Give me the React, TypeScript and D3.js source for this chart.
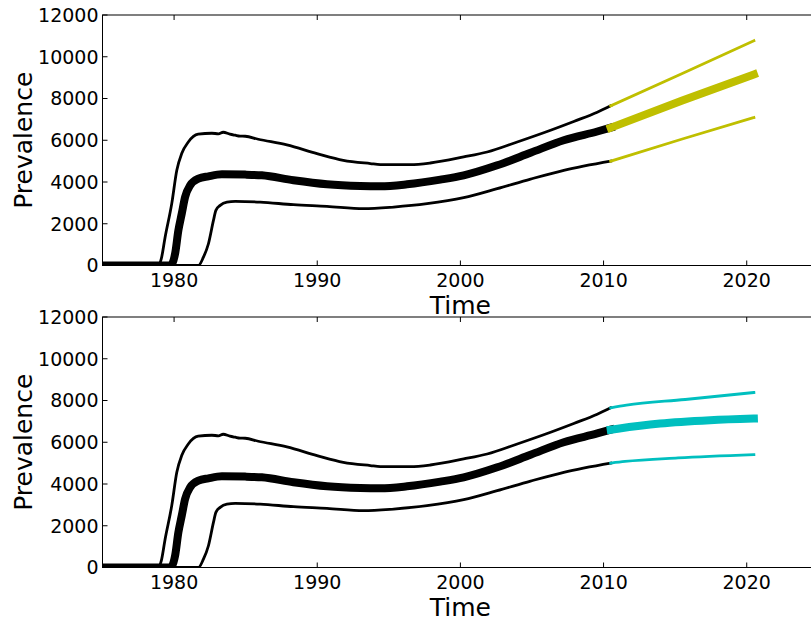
import React from "react";
import * as d3 from "d3";

type Pt = [number, number];

// Axis ticks
const xTicks = [1980, 1990, 2000, 2010, 2020];
const yTicks = [0, 2000, 4000, 6000, 8000, 10000, 12000];

// Historical prevalence (year, count): upper bound, median, lower bound
const upperHist: Pt[] = [
  [1975, 0], [1978.9, 0], [1979.1, 300], [1979.37, 1344], [1979.84, 2976],
  [1980.19, 4560], [1980.54, 5376], [1980.98, 5904], [1981.68, 6288],
  [1982.64, 6336], [1983.1, 6310], [1983.43, 6384], [1983.9, 6290],
  [1984.27, 6240], [1984.6, 6200], [1984.97, 6192], [1985.88, 6048],
  [1987.88, 5774], [1989.98, 5362], [1991.82, 5040], [1993.71, 4882],
  [1994.41, 4834], [1996.5, 4834], [1997.9, 4910], [2000.23, 5198],
  [2001.87, 5438], [2003.97, 5918], [2006.06, 6420], [2007.92, 6900],
  [2009.56, 7340], [2010.5, 7650],
];

const medianHist: Pt[] = [
  [1975, 0], [1979.7, 0], [1979.84, 60], [1980.07, 562], [1980.3, 1680],
  [1980.54, 2496], [1980.77, 3278], [1981.12, 3840], [1981.7, 4162],
  [1982.4, 4272], [1983.34, 4368], [1984.97, 4354], [1986.13, 4320],
  [1988.34, 4080], [1990.68, 3888], [1993.01, 3806], [1994.41, 3792],
  [1996.27, 3888], [1998.6, 4114], [2000.23, 4320], [2002.57, 4800],
  [2004.9, 5400], [2007.22, 6000], [2009.56, 6420], [2010.5, 6600],
];

const lowerHist: Pt[] = [
  [1975, 0], [1981.7, 0], [1982.05, 398], [1982.4, 1042], [1982.75, 2160],
  [1982.92, 2640], [1983.22, 2880], [1983.69, 3038], [1984.27, 3072],
  [1986.01, 3038], [1988.34, 2912], [1990.68, 2832], [1993.24, 2720],
  [1995.34, 2800], [1997.67, 2960], [2000.23, 3248], [2002.57, 3680],
  [2004.9, 4140], [2007.22, 4560], [2010.5, 5000],
];

// Scenario A projections (top panel)
const upperProjA: Pt[] = [[2010.5, 7650], [2015.5, 9200], [2020.5, 10768]];
const medianProjA: Pt[] = [[2010.5, 6600], [2015.5, 7900], [2020.5, 9152]];
const lowerProjA: Pt[] = [[2010.5, 5000], [2015.5, 6060], [2020.5, 7088]];

// Scenario B projections (bottom panel)
const upperProjB: Pt[] = [[2010.5, 7650], [2011.6, 7780], [2015.7, 8048], [2020.5, 8384]];
const medianProjB: Pt[] = [[2010.5, 6600], [2011.0, 6650], [2013.95, 6896], [2017.44, 7056], [2020.5, 7136]];
const lowerProjB: Pt[] = [[2010.5, 5000], [2011.5, 5080], [2015.2, 5248], [2020.5, 5408]];

const W = 811;
const H = 621;
const FONT = "'DejaVu Sans', sans-serif";

const x = d3.scaleLinear().domain([1975, 2025]).range([102.5, 818.3]);

interface PanelProps {
  top: number;
  bottom: number;
  id: string;
  color: string;
  proj: [Pt[], Pt[], Pt[]];
}

function Panel({ top, bottom, id, color, proj }: PanelProps) {
  const y = d3.scaleLinear().domain([0, 12000]).range([bottom, top]);
  const line = d3
    .line<Pt>()
    .x((d) => x(d[0]))
    .y((d) => y(d[1]))
    .curve(d3.curveMonotoneX);
  const left = x.range()[0];
  const right = x.range()[1];
  const thin = 2.8;
  const thick = 8;
  return (
    <g>
      <defs>
        <clipPath id={id}>
          <rect x={left} y={top} width={right - left} height={bottom - top} />
        </clipPath>
      </defs>
      <g clipPath={`url(#${id})`} fill="none" strokeLinecap="square" strokeLinejoin="round">
        <path d={line(upperHist) ?? ""} stroke="#000" strokeWidth={thin} />
        <path d={line(medianHist) ?? ""} stroke="#000" strokeWidth={thick} />
        <path d={line(lowerHist) ?? ""} stroke="#000" strokeWidth={thin} />
        <path d={line(proj[0]) ?? ""} stroke={color} strokeWidth={thin} />
        <path d={line(proj[1]) ?? ""} stroke={color} strokeWidth={thick} />
        <path d={line(proj[2]) ?? ""} stroke={color} strokeWidth={thin} />
      </g>
      <rect x={left} y={top} width={right - left} height={bottom - top} fill="none" stroke="#000" strokeWidth={1} />
      {xTicks.map((t) => (
        <g key={`x${t}`}>
          <line x1={x(t)} x2={x(t)} y1={bottom} y2={bottom - 5} stroke="#000" strokeWidth={1} />
          <line x1={x(t)} x2={x(t)} y1={top} y2={top + 5} stroke="#000" strokeWidth={1} />
          <text x={x(t)} y={bottom + 21.5} textAnchor="middle" fontFamily={FONT} fontSize={19} fill="#000">
            {t}
          </text>
        </g>
      ))}
      {yTicks.map((t) => (
        <g key={`y${t}`}>
          <line x1={left} x2={left + 5} y1={y(t)} y2={y(t)} stroke="#000" strokeWidth={1} />
          <text x={left - 4} y={y(t)} dy="0.36em" textAnchor="end" fontFamily={FONT} fontSize={19} fill="#000">
            {t}
          </text>
        </g>
      ))}
      <text x={(left + right) / 2} y={bottom + 48.5} textAnchor="middle" fontFamily={FONT} fontSize={25} fill="#000">
        Time
      </text>
      <text
        transform={`translate(32,${(top + bottom) / 2}) rotate(-90)`}
        textAnchor="middle"
        fontFamily={FONT}
        fontSize={25}
        fill="#000"
      >
        Prevalence
      </text>
    </g>
  );
}

export default function App() {
  return (
    <svg width={W} height={H} style={{ display: "block", position: "absolute", left: 0, top: 0 }}>
      <rect width={W} height={H} fill="#fff" />
      <Panel top={15} bottom={265.5} id="clipA" color="#bfbf00" proj={[upperProjA, medianProjA, lowerProjA]} />
      <Panel top={317} bottom={567.5} id="clipB" color="#00bfbf" proj={[upperProjB, medianProjB, lowerProjB]} />
    </svg>
  );
}
